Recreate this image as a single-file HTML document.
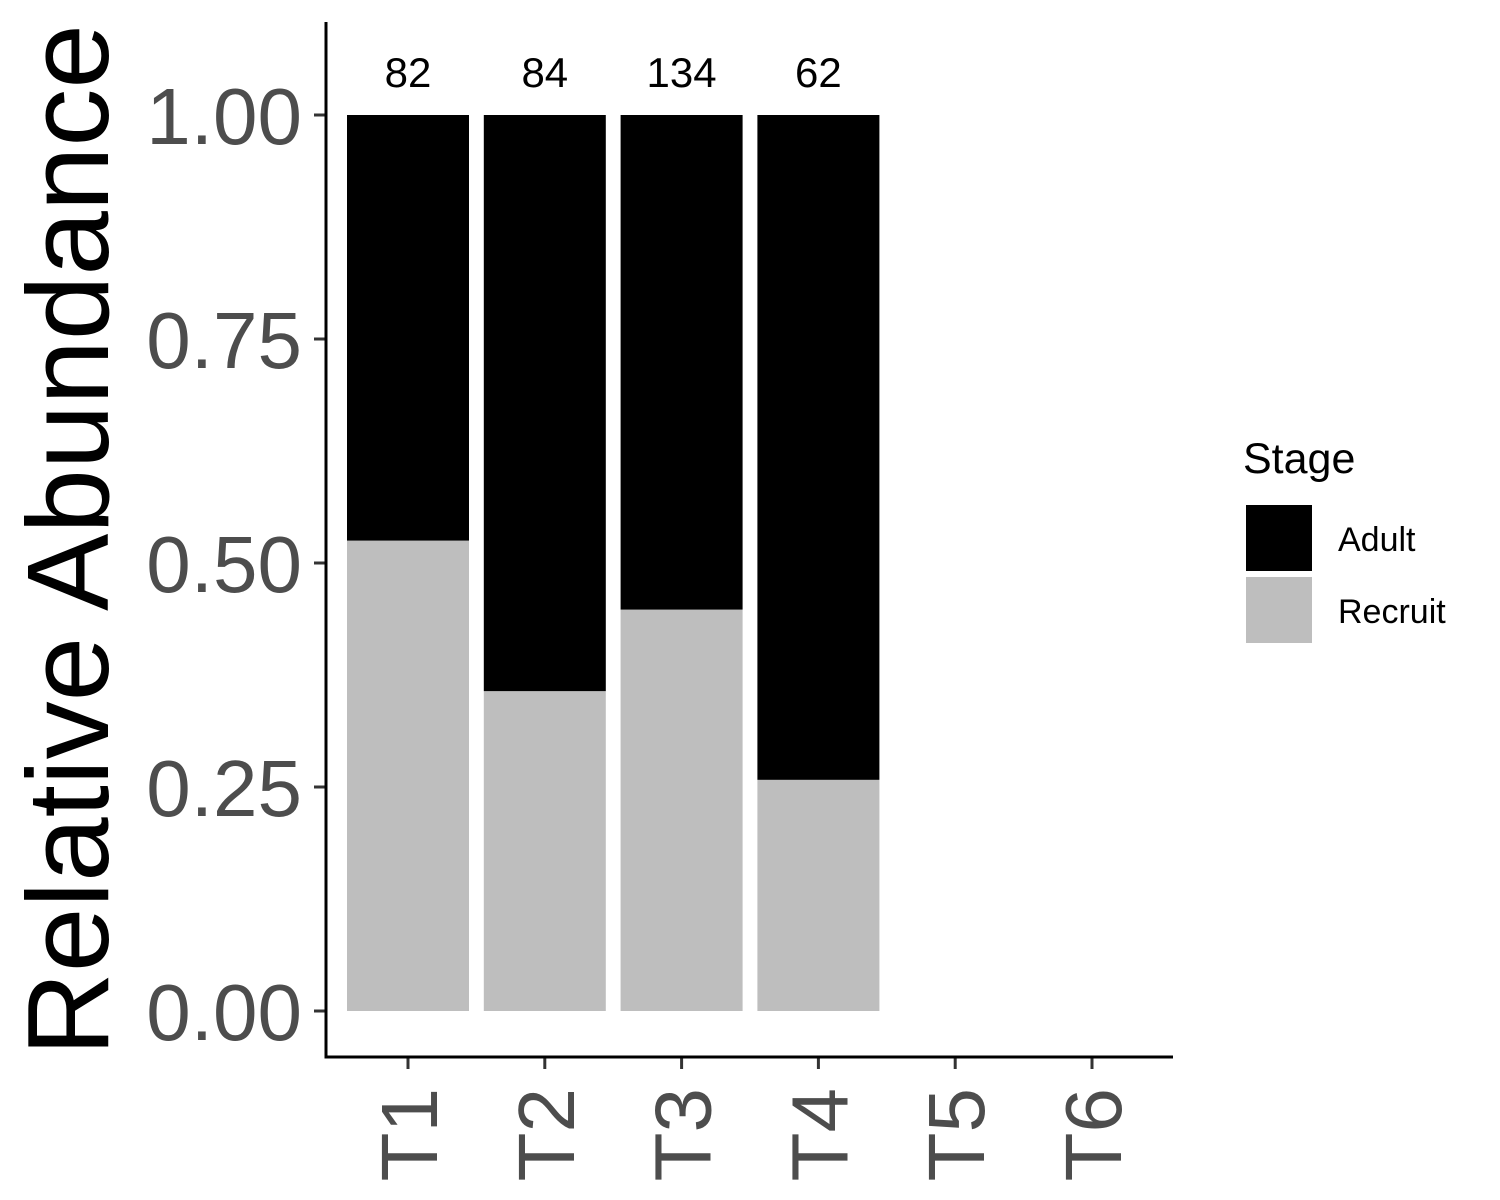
<!DOCTYPE html>
<html><head><meta charset="utf-8"><style>
html,body{margin:0;padding:0;background:#fff;}
svg{display:block;font-family:"Liberation Sans",Arial,sans-serif;}
</style></head><body>
<svg id="chart" width="1500" height="1200" viewBox="0 0 1500 1200">
<g id="plot"></g>
<text transform="translate(108,540) rotate(-90)" text-anchor="middle" font-size="116" fill="#000">Relative Abundance</text>
<g>
<text x="1243" y="473" font-size="43" fill="#000">Stage</text>
<rect x="1246" y="505" width="66" height="66" fill="#000"/>
<rect x="1246" y="577" width="66" height="66" fill="#bebebe"/>
<text x="1338" y="551" font-size="34" fill="#000">Adult</text>
<text x="1338" y="623" font-size="34" fill="#000">Recruit</text>
</g>
</svg>
<script>
const categories = ["T1","T2","T3","T4","T5","T6"];
const recruit = [0.525, 0.357, 0.448, 0.258, null, null];
const adult = [0.475, 0.643, 0.552, 0.742, null, null];
const counts = ["82","84","134","62","",""];
const yTicks = [0, 0.25, 0.5, 0.75, 1.0];
const yTickLabels = ["0.00","0.25","0.50","0.75","1.00"];

const NS = "http://www.w3.org/2000/svg";
const g = document.getElementById("plot");
const y = v => 1011 - v * 896;
const x = i => 408 + i * 136.8;
const bw = 122;
function el(tag, attrs){ const e = document.createElementNS(NS, tag); for (const k in attrs) e.setAttribute(k, attrs[k]); g.appendChild(e); return e; }

categories.forEach((c, i) => {
  if (recruit[i] != null) {
    const r = el("rect", {x: x(i)-bw/2, y: y(recruit[i]), width: bw, height: y(0)-y(recruit[i]), fill: "#bebebe"});
    
    
    const top = recruit[i] + adult[i];
    const a = el("rect", {x: x(i)-bw/2, y: y(top), width: bw, height: y(recruit[i])-y(top), fill: "#000"});
    
    
    const t = el("text", {x: x(i), y: y(top) - 28, "text-anchor": "middle", "font-size": "42", fill: "#000"});
    t.textContent = counts[i];
    
    
  }
  const tk = el("line", {x1: x(i), x2: x(i), y1: 1057, y2: 1069, stroke: "#333", "stroke-width": 3});
  
  
  const lb = el("text", {transform: `translate(${x(i)+29},1088) rotate(-90)`, "text-anchor": "end", "font-size": "80", fill: "#4d4d4d"});
  lb.textContent = c;
  
  
});

yTicks.forEach((v, i) => {
  const tk = el("line", {x1: 314, x2: 326, y1: y(v), y2: y(v), stroke: "#333", "stroke-width": 3});
  
  
  const lb = el("text", {x: 302, y: y(v) + 29, "text-anchor": "end", "font-size": "80", fill: "#4d4d4d"});
  lb.textContent = yTickLabels[i];
  
  
});

const ya = el("line", {x1: 326, x2: 326, y1: 22, y2: 1058.5, stroke: "#000", "stroke-width": 3});


const xa = el("line", {x1: 324.5, x2: 1173, y1: 1057, y2: 1057, stroke: "#000", "stroke-width": 3});


</script>
</body></html>
